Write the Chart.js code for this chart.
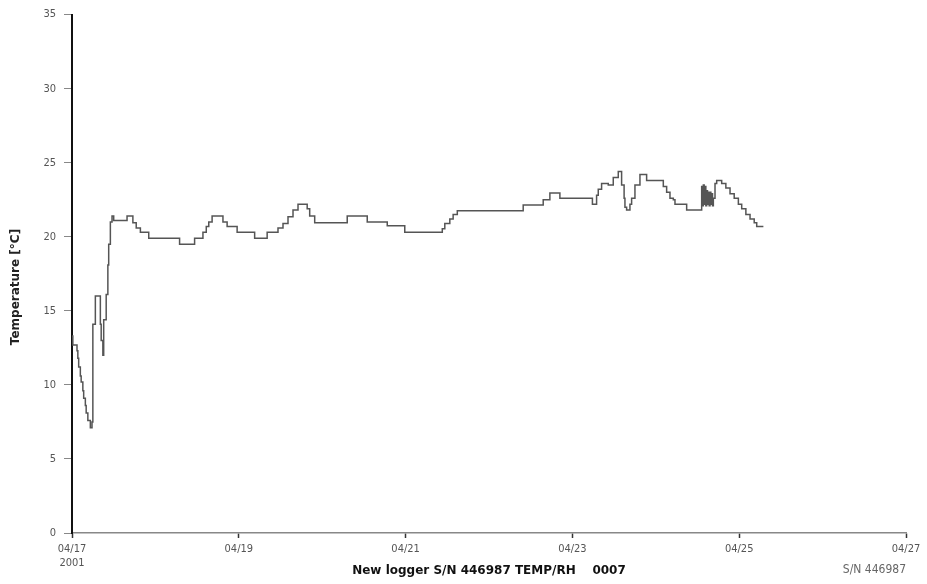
<!DOCTYPE html>
<html>
<head>
<meta charset="utf-8">
<script src="https://cdn.jsdelivr.net/npm/chart.js@4"></script>
<style>
  html, body { margin: 0; padding: 0; background: #fff; }
  #tempChart { display: block; }
</style>
</head>
<body>
<canvas id="tempChart" width="927" height="584"></canvas>
<script>
/*--logger data: days since 04/17 00:00, value holds until next point--*/
var days = [
  0.00, 0.01, 0.06, 0.07, 0.08, 0.10, 0.11, 0.13, 0.14, 0.16, 0.17, 0.19, 0.22, 0.24,
  0.25, 0.28, 0.34, 0.35, 0.37, 0.38, 0.41, 0.43, 0.44, 0.46, 0.48, 0.50,
  0.66, 0.73, 0.77, 0.82, 0.92, 1.29, 1.47, 1.57, 1.61, 1.64, 1.68,
  1.81, 1.86, 1.98, 2.19, 2.34, 2.47, 2.53, 2.59, 2.65, 2.71, 2.82, 2.85, 2.91,
  3.30, 3.54, 3.78, 3.99, 4.44, 4.47, 4.53, 4.57, 4.62, 5.41, 5.65, 5.73, 5.85,
  6.24, 6.29, 6.31, 6.35, 6.43, 6.49, 6.55, 6.59, 6.62, 6.63, 6.65,
  6.69, 6.71, 6.75, 6.81, 6.89, 7.09, 7.13, 7.17, 7.21, 7.23, 7.37,
  7.55, 7.56, 7.57, 7.58, 7.59, 7.60, 7.61, 7.62, 7.63, 7.64, 7.65, 7.66, 7.67, 7.68, 7.69,
  7.71, 7.73, 7.79, 7.84, 7.89, 7.94, 7.99, 8.03, 8.08, 8.13, 8.18, 8.21, 8.29
];
var tempC = [
  13.3, 12.7, 12.3, 11.8, 11.2, 10.6, 10.2, 9.6, 9.1, 8.6, 8.1, 7.6, 7.1, 7.5,
  14.1, 16.0, 14.1, 13.0, 12.0, 14.4, 16.1, 18.1, 19.5, 21.0, 21.4, 21.1,
  21.4, 20.95, 20.6, 20.3, 19.9, 19.5, 19.9, 20.3, 20.7, 21.0, 21.4,
  21.0, 20.7, 20.3, 19.9, 20.3, 20.6, 20.9, 21.35, 21.8, 22.2, 21.9, 21.4, 20.95,
  21.4, 21.0, 20.75, 20.3, 20.55, 20.9, 21.2, 21.5, 21.75, 22.15, 22.5, 22.95, 22.6,
  22.2, 22.8, 23.2, 23.6, 23.5, 24.0, 24.4, 23.5, 22.6, 22.0, 21.8,
  22.2, 22.6, 23.5, 24.2, 23.8, 23.4, 23.0, 22.6, 22.5, 22.2, 21.8,
  23.4, 22.1, 23.5, 22.2, 23.4, 22.1, 23.1, 22.2, 23.0, 22.1, 23.0, 22.2, 22.9, 22.1, 22.6,
  23.6, 23.8, 23.6, 23.3, 22.9, 22.6, 22.2, 21.9, 21.5, 21.2, 20.95, 20.7, 20.7
];
var dateLabels = ["04/17", "04/19", "04/21", "04/23", "04/25", "04/27"];
var startYear = "2001";
var yTitle = "Temperature [\u00b0C]";
var xTitle = "New logger S/N 446987 TEMP/RH    0007";
var serialText = "S/N 446987";

var points = days.map(function (d, i) { return { x: d, y: tempC[i] }; });

var tickFont = { family: "'Liberation Sans Narrow', 'DejaVu Sans Condensed', sans-serif", size: 11 };

// extra texts the old logger software put round the plot
var extraText = {
  id: 'extraText',
  afterDraw: function (chart) {
    var ctx = chart.ctx;
    ctx.save();
    ctx.fillStyle = '#222';
    ctx.font = "bold 12px 'DejaVu Sans', sans-serif";
    ctx.textAlign = 'center';
    ctx.textBaseline = 'middle';
    ctx.translate(16, 287);
    ctx.rotate(-Math.PI / 2);
    ctx.fillText(yTitle, 0, 0);
    ctx.restore();

    ctx.save();
    ctx.fillStyle = '#666';
    ctx.font = "12px 'Liberation Sans Narrow', 'DejaVu Sans Condensed', sans-serif";
    ctx.textAlign = 'right';
    ctx.textBaseline = 'middle';
    ctx.fillText(serialText, chart.chartArea.right, 570);
    ctx.restore();
  }
};

var tempChart = new Chart(document.getElementById('tempChart'), {
  type: 'line',
  data: {
    datasets: [{
      data: points,
      stepped: true,
      borderColor: '#555',
      borderWidth: 1.5,
      pointRadius: 0,
      fill: false
    }]
  },
  options: {
    responsive: false,
    animation: false,
    devicePixelRatio: 1,
    layout: { padding: { top: 12, right: 21, left: 0, bottom: 0 } },
    plugins: {
      legend: { display: false },
      tooltip: { enabled: false }
    },
    scales: {
      x: {
        type: 'linear',
        min: 0,
        max: 10,
        afterFit: function (scale) { scale.height = 51; },
        border: { color: '#888', width: 1.5 },
        grid: { drawOnChartArea: false, tickLength: 5, color: '#333', tickWidth: 1.5 },
        ticks: {
          stepSize: 2,
          maxRotation: 0,
          padding: 5,
          color: '#555',
          font: tickFont,
          callback: function (value, index) {
            var lbl = dateLabels[value / 2];
            return index === 0 ? [lbl, startYear] : lbl;
          }
        },
        title: {
          display: true,
          text: xTitle,
          color: '#111',
          padding: { top: 0, bottom: 6 },
          font: { family: "'DejaVu Sans', sans-serif", size: 12, weight: 'bold' }
        }
      },
      y: {
        min: 0,
        max: 35,
        afterFit: function (scale) { scale.width = 72; },
        border: { color: '#111', width: 2 },
        grid: { drawOnChartArea: false, tickLength: 8, color: '#888' },
        ticks: {
          stepSize: 5,
          padding: 8,
          color: '#555',
          font: tickFont
        }
      }
    }
  },
  plugins: [extraText]
});
</script>
</body>
</html>
